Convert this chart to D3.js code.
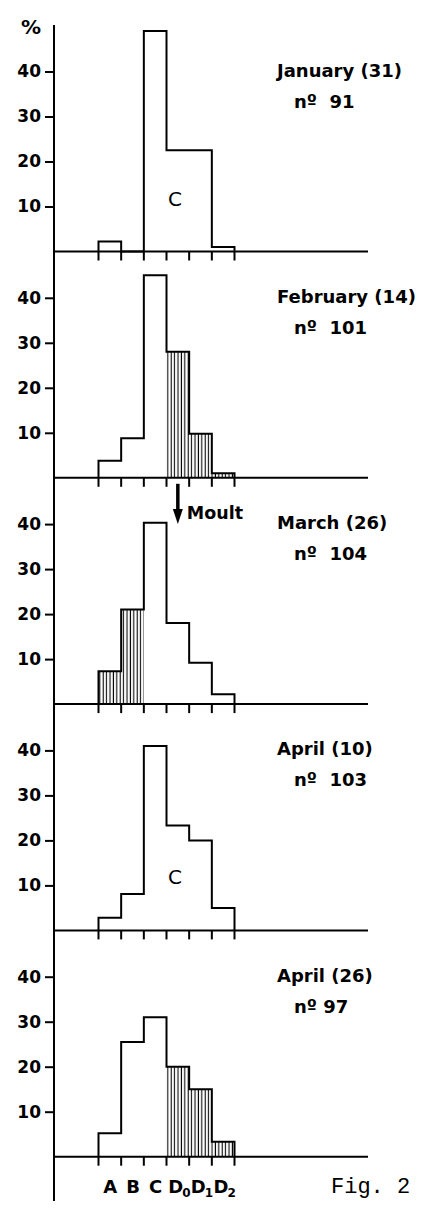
<!DOCTYPE html>
<html>
<head>
<meta charset="utf-8">
<script src="https://cdn.jsdelivr.net/npm/d3@7"></script>
<style>
  body { margin: 0; background: #fff; }
  svg text { fill: #000; }
</style>
</head>
<body>
<div id="chart"></div>
<script>
// moult stage frequencies (%) per sampling date
var stages = ['A', 'B', 'C', 'D0', 'D1', 'D2'];
var months = ['January (31)', 'February (14)', 'March (26)', 'April (10)', 'April (26)'];
var counts = ['91', '101', '104', '103', '97'];
var jan = [2.2, 0, 49, 22.5, 22.5, 1];
var feb = [3.8, 8.8, 45, 28, 9.8, 1];
var mar = [7.3, 21, 40.3, 18, 9.2, 2.2];
var apr10 = [2.8, 8.1, 41, 23.3, 20, 5];
var apr26 = [5.2, 25.5, 31, 20, 15, 3.3];
var hatched = [[], ['D0', 'D1', 'D2'], ['A', 'B'], [], ['D0', 'D1', 'D2']];
var cLabel = [true, false, false, true, false];
var yTicks = [10, 20, 30, 40];

var series = [jan, feb, mar, apr10, apr26];

var width = 422, height = 1225;
var axisX = 54, axisRight = 368;
var firstBase = 251.5, panelStep = 226.3;
var countGap = ['  ', '  ', '  ', '  ', ' '];

var svg = d3.select('#chart').append('svg')
    .attr('width', width)
    .attr('height', height);

var defs = svg.append('defs');
var pat = defs.append('pattern')
    .attr('id', 'vhatch')
    .attr('patternUnits', 'userSpaceOnUse')
    .attr('width', 3.4)
    .attr('height', 10);
pat.append('line')
    .attr('x1', 1.2).attr('x2', 1.2)
    .attr('y1', 0).attr('y2', 10)
    .attr('stroke', '#000')
    .attr('stroke-width', 1.1);

var x = d3.scaleBand()
    .domain(stages)
    .range([98.5, 234.5])
    .padding(0);

var edges = stages.map(function(s) { return x(s); });
edges.push(x(stages[stages.length - 1]) + x.bandwidth());

var boldFont = "'DejaVu Sans', sans-serif";

// long vertical axis
svg.append('line')
    .attr('x1', axisX).attr('x2', axisX)
    .attr('y1', 25).attr('y2', 1201)
    .attr('stroke', '#000')
    .attr('stroke-width', 2);

svg.append('text')
    .attr('x', 41).attr('y', 34)
    .attr('text-anchor', 'end')
    .style('font-family', boldFont)
    .style('font-weight', 'bold')
    .style('font-size', '20px')
    .text('%');

series.forEach(function(vals, i) {
  var base = firstBase + i * panelStep;
  var y = d3.scaleLinear().domain([0, 10]).range([base, base - 45]);
  var g = svg.append('g');

  // hatched bins
  g.selectAll('rect.h')
    .data(stages.filter(function(s) { return hatched[i].indexOf(s) >= 0; }))
    .enter().append('rect')
      .attr('class', 'h')
      .attr('x', function(s) { return x(s); })
      .attr('width', x.bandwidth())
      .attr('y', function(s) { return y(vals[stages.indexOf(s)]); })
      .attr('height', function(s) { return base - y(vals[stages.indexOf(s)]); })
      .attr('fill', 'url(#vhatch)');

  // step outline of the histogram
  var pts = [[edges[0], y(0)]];
  vals.forEach(function(v, k) {
    pts.push([edges[k], y(v)]);
    pts.push([edges[k + 1], y(v)]);
  });
  pts.push([edges[edges.length - 1], y(0)]);
  g.append('path')
    .attr('d', d3.line()(pts))
    .attr('fill', 'none')
    .attr('stroke', '#000')
    .attr('stroke-width', 2)
    .attr('stroke-linejoin', 'miter');

  // baseline
  g.append('line')
    .attr('x1', axisX).attr('x2', axisRight)
    .attr('y1', base).attr('y2', base)
    .attr('stroke', '#000')
    .attr('stroke-width', 2);

  // bin edge ticks
  g.selectAll('line.et')
    .data(edges)
    .enter().append('line')
      .attr('class', 'et')
      .attr('x1', function(d) { return d; })
      .attr('x2', function(d) { return d; })
      .attr('y1', base).attr('y2', base + 9)
      .attr('stroke', '#000')
      .attr('stroke-width', 2);

  // y axis ticks
  var ax = g.append('g')
      .attr('transform', 'translate(' + axisX + ',0)')
      .call(d3.axisLeft(y).tickValues(yTicks).tickSize(9).tickPadding(4));
  ax.select('.domain').remove();
  ax.selectAll('.tick line').attr('stroke-width', 2);
  ax.selectAll('.tick text')
      .style('font-family', boldFont)
      .style('font-weight', 'bold')
      .style('font-size', '17px');

  // panel labels
  g.append('text')
    .attr('x', 277).attr('y', base - 175)
    .style('font-family', boldFont)
    .style('font-weight', 'bold')
    .style('font-size', '18px')
    .text(months[i]);
  g.append('text')
    .attr('x', 294).attr('y', base - 144)
    .style('font-family', boldFont)
    .style('font-weight', 'bold')
    .style('font-size', '18px')
    .style('white-space', 'pre')
    .text('nº' + countGap[i] + counts[i]);

  if (cLabel[i]) {
    g.append('text')
      .attr('x', 175).attr('y', base - 46)
      .attr('text-anchor', 'middle')
      .style('font-family', boldFont)
      .style('font-size', '20px')
      .text('C');
  }

  if (i === 2) {
    // moult arrow
    var ax0 = x('D0') + x.bandwidth() / 2;
    var top = firstBase + panelStep + 6;
    var tip = y(40);
    g.append('line')
      .attr('x1', ax0).attr('x2', ax0)
      .attr('y1', top).attr('y2', tip - 12)
      .attr('stroke', '#000')
      .attr('stroke-width', 3.5);
    g.append('path')
      .attr('d', d3.line()([[ax0 - 5, tip - 15], [ax0 + 5, tip - 15], [ax0, tip]]) + 'Z')
      .attr('fill', '#000');
    g.append('text')
      .attr('x', ax0 + 9).attr('y', top + 35)
      .style('font-family', boldFont)
      .style('font-weight', 'bold')
      .style('font-size', '17.5px')
      .text('Moult');
  }
});

// stage labels under the last panel
var labelY = firstBase + 4 * panelStep + 36;
var xl = svg.append('g')
    .style('font-family', boldFont)
    .style('font-weight', 'bold')
    .style('font-size', '18px');
stages.forEach(function(s) {
  var t = xl.append('text')
    .attr('x', x(s) + x.bandwidth() / 2 + (s.length > 1 ? 1 : 0))
    .attr('y', labelY)
    .attr('text-anchor', 'middle')
    .style('letter-spacing', '-1px');
  t.append('tspan').text(s.charAt(0));
  if (s.length > 1) {
    t.append('tspan')
      .attr('dy', 4)
      .style('font-size', '12px')
      .text(s.slice(1));
  }
});

svg.append('text')
    .attr('x', 331).attr('y', labelY)
    .style('font-family', "'Liberation Mono', 'DejaVu Sans Mono', monospace")
    .style('font-size', '22px')
    .text('Fig. 2');
</script>
</body>
</html>
